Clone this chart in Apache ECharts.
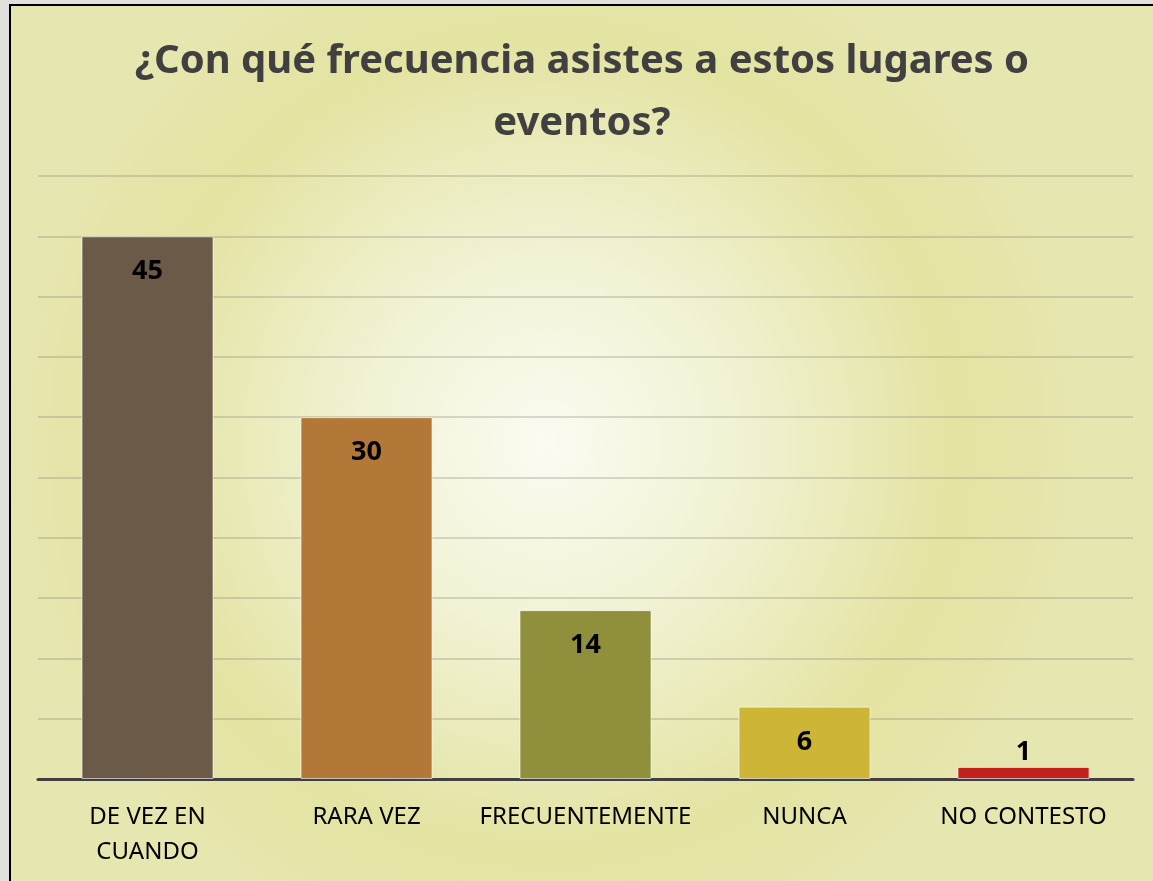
<!DOCTYPE html>
<html>
<head>
<meta charset="utf-8">
<script src="https://cdn.jsdelivr.net/npm/echarts@6/dist/echarts.min.js"></script>
<style>
  html, body { margin: 0; padding: 0; background: #e0e0dc; overflow: hidden; }
  #chart-container {
    position: absolute;
    left: 9px; top: 4px;
    width: 1142px; height: 875px;
    border-left: 2px solid #000;
    border-top: 2px solid #000;
  }
</style>
</head>
<body>
<div id="chart-container"></div>
<script>
var dom = document.getElementById('chart-container');
var myChart = echarts.init(dom, null, { renderer: 'canvas' });

// datos
var categorias = ['DE VEZ EN\nCUANDO', 'RARA VEZ', 'FRECUENTEMENTE', 'NUNCA', 'NO CONTESTO'];
var valores = [45, 30, 14, 6, 1];
var colores = ['#6b5a48', '#b37838', '#8f8f3c', '#cdb535', '#c0211c'];
var titulo = '¿Con qué frecuencia asistes a estos lugares o\neventos?';

var barData = valores.map(function (v, i) {
  var item = {
    value: v,
    itemStyle: { color: colores[i] }
  };
  // la barra pequeña lleva la etiqueta encima
  if (v < 3) {
    item.label = { position: 'top', distance: 1 };
  }
  return item;
});

var option = {
  backgroundColor: {
    type: 'radial',
    x: 0.47, y: 0.5, r: 0.62,
    colorStops: [
      { offset: 0, color: '#fbfbf2' },
      { offset: 0.35, color: '#f2f2d4' },
      { offset: 0.75, color: '#e3e3a2' },
      { offset: 1, color: '#e6e6b0' }
    ]
  },
  title: {
    text: titulo,
    left: 'center',
    top: 20,
    textStyle: {
      fontFamily: 'Noto Sans',
      fontSize: 40,
      fontWeight: 'bold',
      color: '#404040',
      lineHeight: 62
    }
  },
  grid: {
    left: 27,
    right: 20,
    top: 170,
    bottom: 102
  },
  xAxis: {
    type: 'category',
    data: categorias,
    axisLine: { lineStyle: { color: '#404040', width: 3 } },
    axisTick: { show: false },
    axisLabel: {
      margin: 21,
      fontFamily: 'Noto Sans',
      fontSize: 24,
      lineHeight: 35,
      color: '#000',
      interval: 0
    }
  },
  yAxis: {
    type: 'value',
    min: 0,
    max: 50,
    interval: 5,
    axisLabel: { show: false },
    axisLine: { show: false },
    axisTick: { show: false },
    splitLine: { lineStyle: { color: 'rgba(125,125,115,0.28)', width: 2 } }
  },
  series: [
    {
      type: 'bar',
      data: barData,
      barWidth: 132,
      itemStyle: {
        borderColor: 'rgba(255,255,255,0.6)',
        borderWidth: 1
      },
      label: {
        show: true,
        position: 'insideTop',
        distance: 22,
        fontFamily: 'Noto Sans',
        fontSize: 27,
        fontWeight: 'bold',
        color: '#000'
      }
    }
  ]
};

myChart.setOption(option);
window.addEventListener('resize', myChart.resize);
</script>
</body>
</html>
